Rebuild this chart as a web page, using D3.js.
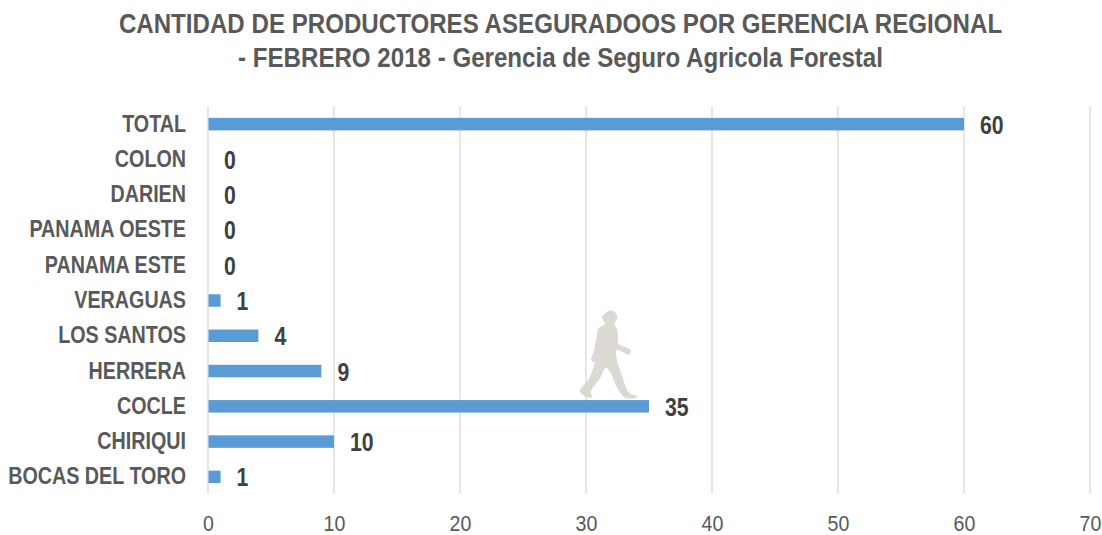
<!DOCTYPE html>
<html><head><meta charset="utf-8">
<script src="https://cdn.jsdelivr.net/npm/d3@7"></script>
<style>html,body{margin:0;background:#fff}svg{display:block}text{font-family:"Liberation Sans",Arial,sans-serif}</style>
</head><body><div id="c"></div>
<script>
const categories = ["TOTAL","COLON","DARIEN","PANAMA OESTE","PANAMA ESTE","VERAGUAS","LOS SANTOS","HERRERA","COCLE","CHIRIQUI","BOCAS DEL TORO"];
const values = [60,0,0,0,0,1,4,9,35,10,1];
const xTicks = [0,10,20,30,40,50,60,70];
const titleLines = ["CANTIDAD DE PRODUCTORES ASEGURADOOS POR GERENCIA REGIONAL","- FEBRERO 2018 - Gerencia de Seguro Agricola Forestal"];
const walker = [[148,32],[166,38],[172,55],[163,72],[170,85],[174,110],[176,132],[205,145],[213,155],[205,164],[190,157],[170,150],[170,175],[187,230],[207,278],[233,289],[226,294],[195,293],[172,265],[150,215],[137,203],[120,235],[92,278],[98,291],[85,293],[60,275],[65,262],[85,240],[103,195],[112,160],[110,180],[100,187],[93,178],[101,155],[110,110],[116,85],[135,72],[126,52]];

const W=1102,H=535;
const svg=d3.select("#c").append("svg").attr("width",W).attr("height",H);
const x=d3.scaleLinear().domain([0,70]).range([208,1090]);
const y=d3.scaleBand().domain(categories).range([106.5,494.5]);
const barH=12.5;

function condense(sel,f){sel.each(function(){const l=this.getComputedTextLength();d3.select(this).attr("textLength",l*f).attr("lengthAdjust","spacingAndGlyphs");});}

svg.selectAll("text.title").data(titleLines).join("text").attr("class","title")
  .attr("x",560.5).attr("y",(d,i)=>[33,67][i]).attr("text-anchor","middle")
  .attr("font-size",27).attr("font-weight","bold").attr("fill","#595959").text(d=>d).call(condense,0.893);

svg.selectAll("line.grid").data(xTicks).join("line").attr("class","grid")
  .attr("x1",d=>x(d)).attr("x2",d=>x(d)).attr("y1",106).attr("y2",494)
  .attr("stroke","#d9d9d9").attr("stroke-width",1.3);

const ax=svg.append("g").attr("transform","translate(0,494)")
  .call(d3.axisBottom(x).tickValues(xTicks).tickSize(0).tickPadding(21).tickFormat(d3.format("d")));
ax.select(".domain").remove();
ax.selectAll("text").attr("font-size",22.5).attr("font-family","Liberation Sans").attr("fill","#595959").call(condense,0.87);

svg.append("path").attr("transform","translate(560,300) scale(0.3333)")
  .attr("d",d3.line().curve(d3.curveCatmullRomClosed.alpha(0.5))(walker))
  .attr("fill","#d8d5cd").attr("opacity",0.9);

svg.selectAll("rect.bar").data(categories).join("rect").attr("class","bar")
  .attr("x",x(0)+0.5).attr("y",d=>y(d)+y.bandwidth()/2-barH/2)
  .attr("width",(d,i)=>Math.max(0,x(values[i])-x(0)-0.5)).attr("height",barH)
  .attr("fill","#5b9bd5");

svg.selectAll("text.cat").data(categories).join("text").attr("class","cat")
  .attr("x",186).attr("y",d=>y(d)+y.bandwidth()/2+7.5).attr("text-anchor","end")
  .attr("font-size",23).attr("font-weight","bold").attr("fill","#595959").text(d=>d).call(condense,0.857);

svg.selectAll("text.val").data(categories).join("text").attr("class","val")
  .attr("x",(d,i)=>x(values[i])+16).attr("y",d=>y(d)+y.bandwidth()/2+9.5)
  .attr("font-size",25).attr("font-weight","bold").attr("fill","#404040").text((d,i)=>values[i]).call(condense,0.85);
</script></body></html>
